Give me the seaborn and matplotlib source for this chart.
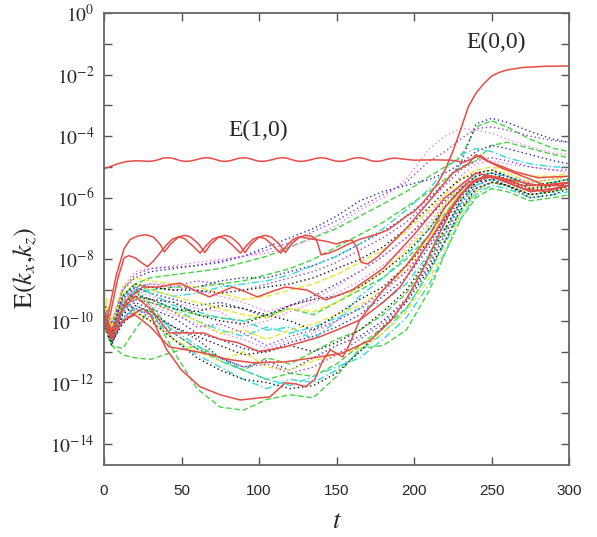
import numpy as np
import pandas as pd
import matplotlib
matplotlib.use("Agg")
import matplotlib.pyplot as plt
import seaborn as sns
from matplotlib.ticker import FixedLocator, FuncFormatter, NullLocator

# ---------------- data (log10 of energy) ----------------
t_grid = [0, 5, 12, 20, 30, 45, 60, 75, 90, 105, 120, 135, 150, 165, 180, 195,
          210, 220, 230, 240, 250, 260, 275, 290, 300]

# green dashed modes
g1 = [-9.6,-10.2,-9.2,-8.8,-8.6,-8.5,-8.4,-8.3,-8.1,-7.9,-7.6,-7.3,-7.0,-6.6,-6.2,-5.8,-5.3,-5.0,-4.7,-3.7,-3.5,-3.7,-4.1,-4.4,-4.5]
g2 = [-9.8,-10.4,-9.6,-9.1,-9.0,-8.9,-8.9,-8.8,-8.7,-8.5,-8.3,-8.0,-7.6,-7.2,-6.8,-6.3,-5.8,-5.4,-5.0,-4.8,-4.3,-4.2,-4.4,-4.6,-4.7]
g3 = [-10.2,-10.8,-10.9,-10.3,-9.6,-11.0,-12.2,-12.8,-12.9,-12.55,-12.4,-12.5,-11.8,-10.9,-10.8,-10.3,-9.0,-7.8,-6.7,-6.0,-5.7,-5.8,-6.1,-6.0,-5.9]
g4 = [-10.0,-10.8,-11.1,-11.2,-11.25,-11.0,-10.8,-11.2,-11.6,-11.9,-11.7,-11.8,-11.4,-10.8,-10.2,-9.6,-8.4,-7.4,-6.4,-5.8,-5.5,-5.6,-5.9,-5.8,-5.7]
g5 = [-9.7,-10.5,-9.7,-9.3,-9.4,-9.6,-9.8,-9.9,-10.0,-9.8,-9.6,-9.8,-9.4,-9.0,-8.6,-8.0,-7.2,-6.5,-5.9,-5.4,-5.2,-5.3,-5.6,-5.5,-5.4]
g6 = [-9.6,-10.4,-9.4,-9.0,-9.5,-10.4,-10.9,-11.3,-11.6,-11.2,-11.4,-11.0,-10.6,-10.3,-9.8,-9.1,-8.0,-7.1,-6.1,-5.5,-5.3,-5.5,-5.8,-5.7,-5.6]

# navy dotted modes
b1 = [-9.4,-10.2,-9.0,-8.6,-8.4,-8.3,-8.2,-8.1,-7.9,-7.6,-7.3,-7.0,-6.6,-6.1,-5.8,-5.6,-5.4,-5.2,-4.9,-3.6,-3.42,-3.55,-3.85,-4.1,-4.2]
b2 = [-9.9,-10.6,-9.5,-9.0,-8.9,-9.0,-8.9,-8.7,-8.6,-8.6,-8.4,-8.2,-7.9,-7.5,-7.1,-6.6,-6.0,-5.5,-4.9,-4.5,-4.3,-4.4,-4.6,-4.8,-4.9]
b3 = [-9.8,-10.5,-9.8,-9.4,-9.6,-9.9,-10.4,-10.6,-10.9,-11.0,-10.7,-10.5,-10.2,-9.8,-9.2,-8.6,-7.6,-6.8,-6.0,-5.4,-5.3,-5.4,-5.7,-5.6,-5.5]
b4 = [-10.1,-10.7,-10.0,-9.6,-9.8,-10.2,-10.6,-11.2,-11.5,-11.3,-11.6,-11.2,-10.8,-10.5,-10.0,-9.3,-8.2,-7.2,-6.2,-5.6,-5.4,-5.6,-5.9,-5.8,-5.6]
b5 = [-9.6,-10.3,-9.3,-8.9,-9.1,-9.3,-9.5,-9.4,-9.6,-9.9,-9.5,-9.2,-8.8,-8.4,-7.9,-7.3,-6.6,-6.1,-5.6,-5.2,-5.1,-5.3,-5.5,-5.4,-5.3]

# magenta dotted modes
m1 = [-9.3,-10.0,-8.9,-8.4,-8.3,-8.2,-8.1,-8.0,-7.9,-7.8,-7.6,-7.3,-6.9,-6.4,-6.0,-5.4,-4.4,-4.0,-3.75,-3.8,-3.9,-4.1,-4.35,-4.55,-4.6]
m2 = [-9.7,-10.4,-9.4,-8.9,-8.8,-8.8,-9.0,-9.2,-9.4,-9.7,-9.5,-9.3,-8.9,-8.4,-7.9,-7.3,-6.5,-5.9,-5.3,-4.9,-4.8,-4.9,-5.0,-5.1,-5.2]
m3 = [-10.0,-10.6,-9.8,-9.3,-9.5,-9.8,-10.1,-10.4,-10.6,-10.9,-10.6,-10.4,-10.0,-9.6,-9.1,-8.4,-7.4,-6.6,-5.9,-5.5,-5.3,-5.5,-5.8,-5.7,-5.5]
m4 = [-9.5,-10.2,-9.3,-9.0,-9.2,-9.4,-9.6,-9.7,-10.2,-10.0,-9.7,-9.4,-9.1,-8.7,-8.2,-7.6,-6.8,-6.2,-5.6,-5.3,-5.2,-5.3,-5.5,-5.4,-5.3]

# cyan dash-dot modes
c1 = [-9.8,-10.5,-9.5,-9.0,-9.0,-9.2,-9.1,-8.9,-8.8,-8.7,-8.5,-8.2,-7.9,-7.5,-7.0,-6.4,-5.7,-5.1,-4.6,-4.4,-4.5,-4.7,-4.9,-5.0,-5.0]
c2 = [-9.9,-10.6,-9.7,-9.2,-9.3,-9.6,-10.0,-10.3,-10.5,-10.2,-10.4,-10.2,-9.9,-9.6,-9.4,-8.8,-7.8,-7.0,-6.2,-5.6,-5.4,-5.5,-5.8,-5.7,-5.6]
c3 = [-10.1,-10.7,-10.0,-9.5,-9.7,-10.3,-10.8,-11.3,-11.6,-11.9,-12.1,-11.8,-11.5,-11.2,-10.6,-9.9,-8.8,-7.8,-6.7,-5.9,-5.6,-5.7,-6.0,-5.9,-5.8]
c4 = [-9.7,-10.3,-9.2,-8.9,-9.1,-9.5,-9.7,-9.9,-10.0,-10.3,-10.2,-10.6,-10.0,-9.2,-8.6,-7.9,-7.0,-6.3,-5.7,-5.3,-5.2,-5.3,-5.6,-5.5,-5.4]
c5 = [-10.0,-10.5,-9.9,-9.6,-9.8,-10.6,-11.1,-11.5,-11.9,-12.2,-11.9,-12.0,-11.6,-11.0,-10.4,-9.6,-8.4,-7.5,-6.5,-5.8,-5.5,-5.6,-5.9,-5.8,-5.7]

# yellow dashed modes
y1 = [-9.0,-10.0,-8.9,-8.6,-8.7,-8.8,-8.9,-9.1,-9.3,-9.2,-9.0,-8.8,-8.5,-8.1,-7.7,-7.1,-6.4,-5.9,-5.4,-5.1,-5.0,-5.1,-5.3,-5.3,-5.2]
y2 = [-9.3,-10.3,-9.5,-9.2,-9.4,-9.7,-10.0,-10.4,-10.3,-10.6,-10.3,-10.1,-9.8,-9.5,-9.0,-8.3,-7.3,-6.5,-5.8,-5.4,-5.3,-5.4,-5.7,-5.6,-5.5]
y3 = [-9.6,-10.5,-10.0,-9.7,-10.0,-10.6,-11.0,-11.3,-11.0,-11.5,-11.6,-11.3,-11.1,-10.9,-10.4,-9.7,-8.6,-7.7,-6.6,-5.8,-5.5,-5.6,-5.9,-5.8,-5.7]
y4 = [-9.2,-10.2,-9.1,-8.8,-9.0,-9.2,-9.4,-9.6,-9.8,-9.9,-9.6,-9.7,-9.4,-8.9,-8.4,-7.7,-6.9,-6.2,-5.6,-5.2,-5.1,-5.2,-5.5,-5.4,-5.3]

# black dotted modes
k1 = [-9.7,-10.4,-9.2,-8.8,-8.9,-9.0,-9.0,-9.1,-9.0,-8.9,-8.8,-8.6,-8.3,-8.0,-7.6,-7.0,-6.3,-5.8,-5.4,-5.2,-5.1,-5.3,-5.6,-5.5,-5.4]
k2 = [-9.9,-10.6,-9.5,-9.1,-9.3,-9.6,-9.7,-9.5,-9.6,-9.8,-9.5,-9.3,-9.2,-8.9,-8.4,-7.8,-7.0,-6.3,-5.7,-5.3,-5.2,-5.4,-5.8,-5.6,-5.5]
k3 = [-10.1,-10.8,-9.8,-9.5,-9.7,-10.2,-10.5,-10.8,-11.1,-11.0,-10.8,-11.0,-10.7,-10.3,-9.7,-9.0,-7.9,-7.0,-6.1,-5.5,-5.4,-5.6,-5.9,-5.8,-5.6]
k4 = [-10.0,-10.7,-10.1,-9.7,-10.0,-10.6,-11.2,-11.6,-11.9,-12.0,-12.2,-12.1,-11.7,-11.0,-10.2,-9.4,-8.3,-7.4,-6.4,-5.7,-5.5,-5.6,-6.0,-5.9,-5.7]
k5 = [-9.8,-10.5,-9.6,-9.2,-9.3,-9.4,-9.8,-10.0,-10.1,-9.8,-10.0,-10.3,-9.8,-9.3,-8.9,-8.2,-7.4,-6.7,-5.9,-5.4,-5.3,-5.4,-5.7,-5.6,-5.5]

# purple dotted modes
p1 = [-9.4,-10.1,-9.0,-8.5,-8.3,-8.25,-8.2,-8.05,-7.9,-7.7,-7.45,-7.1,-6.75,-6.3,-5.9,-5.5,-4.8,-4.5,-4.1,-3.75,-3.7,-3.8,-4.0,-4.15,-4.2]
p2 = [-9.6,-10.3,-9.3,-8.9,-8.8,-8.9,-8.7,-8.8,-9.0,-8.8,-8.6,-8.4,-8.1,-7.7,-7.3,-6.8,-6.1,-5.6,-5.1,-4.8,-4.7,-4.8,-5.0,-5.1,-5.1]
p3 = [-9.9,-10.6,-9.7,-9.3,-9.4,-9.7,-10.2,-10.1,-10.4,-10.8,-10.5,-10.3,-10.0,-9.6,-9.0,-8.4,-7.5,-6.7,-5.9,-5.5,-5.3,-5.5,-5.8,-5.7,-5.5]
p4 = [-10.0,-10.6,-9.9,-9.6,-9.9,-10.4,-10.9,-11.2,-11.5,-11.4,-11.7,-11.5,-11.1,-10.6,-10.1,-9.3,-8.1,-7.2,-6.3,-5.7,-5.5,-5.6,-5.9,-5.8,-5.6]

# red solid modes: (t, log10 E) samples
e10_pts = [(0,-5.06),(5,-4.97),(10,-4.88),(15,-4.82),(20,-4.80),(25,-4.805),(28,-4.82),
           (32,-4.805),(36,-4.75),(38,-4.715),(41,-4.70),(44,-4.715),(47,-4.76),(50,-4.805),
           (53,-4.82),(56,-4.805),(60,-4.76),(63,-4.715),(66,-4.70),(69,-4.715),(72,-4.76),
           (75,-4.805),(78,-4.82),(81,-4.805),(84,-4.76),(87,-4.715),(90,-4.70),(93,-4.715),
           (96,-4.76),(99,-4.805),(102,-4.82),(105,-4.805),(109,-4.76),(112,-4.715),(115,-4.70),
           (118,-4.715),(121,-4.76),(124,-4.805),(127,-4.82),(130,-4.805),(134,-4.76),
           (137,-4.715),(140,-4.70),(143,-4.715),(146,-4.76),(149,-4.805),(152,-4.82),
           (155,-4.805),(158,-4.76),(161,-4.715),(164,-4.70),(167,-4.715),(170,-4.76),
           (173,-4.805),(176,-4.82),(179,-4.805),(182,-4.76),(185,-4.725),(188,-4.71),
           (192,-4.74),(200,-4.78),(212,-4.77),(224,-4.78),(232,-4.85),(238,-4.72),
           (243,-4.62),(248,-4.82),(255,-4.95),(265,-5.15),(280,-5.35),(300,-5.30)]

e00_pts = [(0,-10.0),(3,-9.7),(8,-8.5),(13,-7.65),(17,-7.35),(22,-7.24),(27,-7.2),(32,-7.28),
           (36,-7.5),(39,-7.76),(43,-7.5),(48,-7.28),(52,-7.22),(56,-7.28),(61,-7.5),
           (65,-7.78),(69,-7.5),(74,-7.28),(78,-7.22),(82,-7.28),(87,-7.5),(91,-7.78),
           (95,-7.5),(100,-7.28),(104,-7.22),(108,-7.28),(113,-7.5),(117,-7.78),(121,-7.5),
           (126,-7.28),(130,-7.22),(134,-7.25),(137,-7.35),(140,-7.85),(145,-7.8),
           (150,-7.7),(158,-7.5),(165,-7.35),(175,-7.2),(183,-7.05),(190,-6.8),(195,-6.6),
           (200,-6.45),(205,-6.2),(210,-5.9),(215,-5.55),(220,-5.1),(225,-4.5),(230,-3.8),
           (235,-3.05),(240,-2.6),(245,-2.3),(250,-2.05),(255,-1.93),(260,-1.85),
           (270,-1.77),(285,-1.73),(300,-1.72)]

ra_pts = [(0,-10.1),(4,-9.8),(9,-8.6),(13,-7.95),(16,-7.88),(20,-7.95),(24,-8.1),(28,-8.24),
          (32,-8.05),(36,-7.8),(40,-7.55),(44,-7.35),(48,-7.27),(52,-7.33),(57,-7.55),
          (62,-7.8),(66,-7.55),(70,-7.35),(74,-7.27),(78,-7.33),(83,-7.55),(88,-7.8),
          (92,-7.55),(96,-7.35),(100,-7.27),(104,-7.33),(109,-7.55),(114,-7.8),(118,-7.55),
          (122,-7.35),(126,-7.27),(130,-7.3),(135,-7.35),(142,-7.4),(150,-7.5),(156,-7.4),
          (160,-7.38),(163,-7.6),(166,-8.1),(170,-8.15),(177,-7.9),(185,-7.5),(195,-7.0),
          (205,-6.4),(215,-5.8),(225,-5.2),(235,-4.9),(240,-4.6),(245,-4.75),(255,-5.0),
          (270,-5.3),(285,-5.6),(300,-5.5)]

rb_pts = [(0,-10.1),(5,-10.6),(12,-10.0),(20,-9.8),(30,-10.2),(42,-10.84),(64,-11.04),
          (80,-11.25),(96,-11.36),(117,-11.33),(139,-11.17),(154,-11.04),(172,-10.62),
          (185,-10.0),(195,-9.3),(205,-8.4),(215,-7.3),(225,-6.3),(235,-5.6),(245,-5.3),
          (255,-5.4),(270,-5.7),(285,-5.8),(300,-5.6)]

rc_pts = [(0,-10.0),(5,-10.4),(15,-9.9),(25,-9.6),(30,-9.8),(40,-10.9),(50,-11.6),
          (62,-12.14),(75,-12.4),(88,-12.57),(100,-12.5),(107,-12.47),(117,-12.01),
          (124,-12.05),(130,-12.14),(136,-11.9),(141,-11.3),(146,-10.94),(150,-11.05),
          (154,-11.17),(158,-10.8),(165,-9.97),(180,-9.0),(195,-8.2),(210,-7.2),(220,-6.3),
          (235,-5.5),(250,-5.3),(270,-5.6),(300,-5.6)]

rd_pts = [(0,-9.9),(5,-10.5),(12,-9.6),(20,-9.2),(30,-9.6),(42,-10.39),(55,-10.39),
          (64,-10.39),(75,-10.6),(86,-10.7),(100,-11.0),(117,-10.84),(139,-10.52),
          (150,-10.3),(165,-9.97),(180,-9.4),(191,-8.9),(200,-8.2),(210,-7.4),(220,-6.6),
          (230,-5.9),(240,-5.4),(250,-5.3),(260,-5.5),(275,-5.8),(290,-5.7),(300,-5.6)]

re_pts = [(0,-9.8),(5,-10.3),(15,-9.3),(25,-8.9),(35,-8.9),(49,-8.77),(58,-9.0),(68,-9.22),
          (76,-9.05),(83,-8.9),(91,-9.05),(99,-9.22),(108,-9.05),(117,-8.9),(124,-8.95),
          (131,-9.0),(143,-9.32),(160,-9.0),(180,-8.3),(200,-7.2),(220,-6.0),(240,-5.2),
          (260,-5.4),(280,-5.6),(300,-5.5)]

y_ticks_exp = list(range(0, -15, -1))
x_ticks = [0, 50, 100, 150, 200, 250, 300]

# ---------------- styling ----------------
RED = "#e84c48"
GREEN = "#44d444"
NAVY = "#2e2ea6"
MAGENTA = "#f080f0"
CYAN = "#33d8d8"
YELLOW = "#e8e834"
BLACK = "#151515"
PURPLE = "#9444d4"

DOT = (0, (1, 2))
DASH = (0, (4, 2))
DASHDOT = (0, (5, 2, 1, 2))

sns.set_style("ticks")
plt.rcParams["mathtext.fontset"] = "stix"
plt.rcParams["font.family"] = ["Liberation Serif", "DejaVu Serif"]

fig = plt.figure(figsize=(5.97, 5.37), dpi=100)
ax = fig.add_axes([104 / 597, 1 - 465 / 537, 465 / 597, 452 / 537])

groups = [
    ([g1, g2, g3, g4, g5, g6], GREEN, DASH),
    ([b1, b2, b3, b4, b5], NAVY, DOT),
    ([m1, m2, m3, m4], MAGENTA, DOT),
    ([c1, c2, c3, c4, c5], CYAN, DASHDOT),
    ([y1, y2, y3, y4], YELLOW, DASH),
    ([p1, p2, p3, p4], PURPLE, DOT),
    ([k1, k2, k3, k4, k5], BLACK, DOT),
]
for series_list, col, ls in groups:
    for s in series_list:
        df = pd.DataFrame({"t": t_grid, "E": 10.0 ** np.array(s)})
        sns.lineplot(data=df, x="t", y="E", ax=ax, color=col, linestyle=ls,
                     linewidth=1.0, estimator=None)

for pts in [rc_pts, rb_pts, rd_pts, re_pts, ra_pts, e00_pts, e10_pts]:
    arr = np.array(pts)
    df = pd.DataFrame({"t": arr[:, 0], "E": 10.0 ** arr[:, 1]})
    sns.lineplot(data=df, x="t", y="E", ax=ax, color=RED, linewidth=1.1,
                 estimator=None)

ax.set_yscale("log")
ax.set_xlim(0, 300)
ax.set_ylim(10 ** -14.68, 1.0)
ax.yaxis.set_major_locator(FixedLocator([10.0 ** e for e in y_ticks_exp]))
ax.yaxis.set_minor_locator(NullLocator())
ax.yaxis.set_major_formatter(FuncFormatter(
    lambda v, p: (r"$10^{%d}$" % int(round(np.log10(v)))) if int(round(np.log10(v))) % 2 == 0 else ""))
ax.xaxis.set_major_locator(FixedLocator(x_ticks))
ax.set_xlabel("")
ax.set_ylabel("")

for sp in ax.spines.values():
    sp.set_color("#666666")
    sp.set_linewidth(1.3)
    sp.set_visible(True)

ax.tick_params(axis="both", which="major", direction="in", length=6, width=1,
               color="#555555", top=True, right=True)
ax.tick_params(axis="y", labelsize=14, pad=7)
ax.tick_params(axis="x", labelsize=11, pad=14)
for lab in ax.get_xticklabels():
    lab.set_fontfamily(["Liberation Sans", "DejaVu Sans"])

ax.text(99.4, 10 ** -3.8, "E(1,0)", ha="center", va="center", fontsize=17)
ax.text(253, 10 ** -0.97, "E(0,0)", ha="center", va="center", fontsize=17)

fig.text(25 / 597, 1 - 268 / 537, r"$\mathrm{E}(k_x{,}k_z)$", rotation=90,
         ha="center", va="center", fontsize=19)
fig.text(337 / 597, 1 - 522 / 537, r"$t$", ha="center", va="center", fontsize=19)

fig.savefig("out.png", dpi=100)
